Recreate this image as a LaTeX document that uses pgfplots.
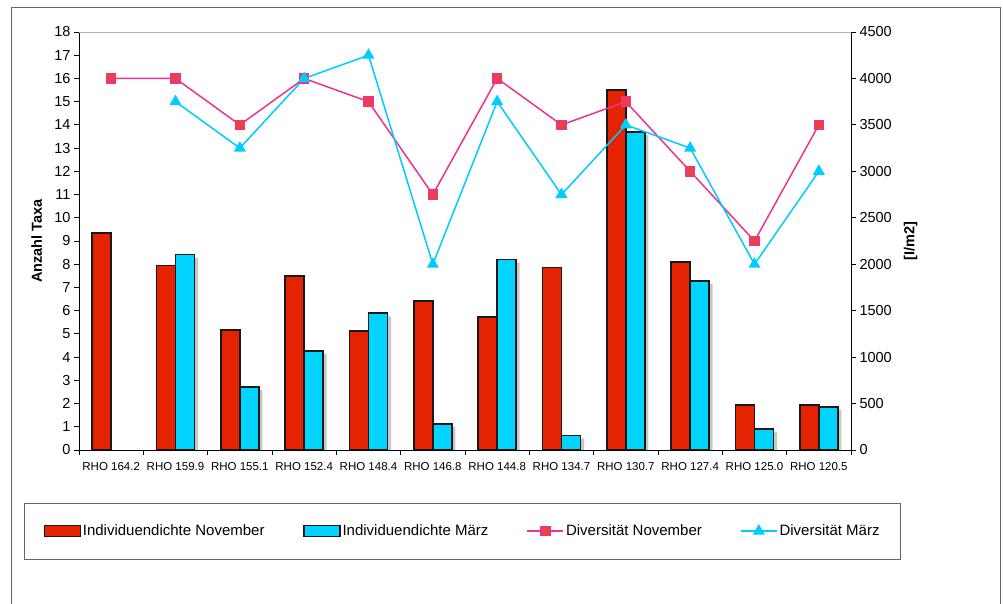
\documentclass[border=0pt]{standalone}
\usepackage{fontspec}
\setmainfont{Liberation Sans}
\usepackage{pgfplots}
\pgfplotsset{compat=1.18}

\definecolor{barred}{RGB}{228,36,0}
\definecolor{barcyan}{RGB}{0,212,255}
\definecolor{novline}{RGB}{240,50,140}
\definecolor{novmark}{RGB}{232,66,66}
\definecolor{marline}{RGB}{0,204,255}
\definecolor{framegray}{RGB}{100,100,100}

\pgfplotsset{
  barlegend/.style={legend image code/.code={\draw[##1] (0pt,-5.5pt) rectangle (36pt,5.5pt);}},
  linelegend/.style={legend image code/.code={\draw[mark repeat=2,mark phase=2,##1] plot coordinates {(0pt,0pt) (18pt,0pt) (36pt,0pt)};}},
  base/.style={
    width=772pt, height=418pt, scale only axis,
    at={(79pt,153pt)}, anchor=south west,
    xmin=-0.5, xmax=11.5,
    /pgf/number format/assume math mode=true,
    /pgf/number format/1000 sep={},
    tick align=outside, major tick length=5pt, minor tick length=5pt,
    every tick/.append style={black, line width=0.8pt},
    axis line style={black, line width=0.8pt},
    tick label style={font=\fontsize{14.5}{16}\selectfont},
    label style={font=\bfseries\fontsize{14.5}{16}\selectfont},
  },
}

\begin{document}
\begin{tikzpicture}
\useasboundingbox (0,0) rectangle (1003pt,603pt);
% outer chart frame
\draw[framegray, line width=0.8pt] (11pt,-5pt) -- (11pt,596pt) -- (1000.5pt,596pt) -- (1000.5pt,-5pt);

% densities (right axis)
\begin{axis}[base,
  ymin=0, ymax=4500, ytick={0,500,...,4500},
  axis y line*=right, axis x line=none, xtick=\empty,
  ylabel={[I/m2]},
  ylabel style={at={(axis description cs:1.0773,0.5)}, anchor=center},
  ybar, bar width=19pt,
]
\addplot[fill=barred, draw=black!90, line width=1.6pt, bar shift=-9.5pt]
  coordinates {(0,2333) (1,1985) (2,1292) (3,1873) (4,1284) (5,1601)
               (6,1432) (7,1963) (8,3876) (9,2024) (10,485) (11,485)};
\addplot[fill=barcyan, draw=black!90, line width=1.6pt, bar shift=9.5pt,
  preaction={fill=black!22, draw=none, transform canvas={xshift=3.5pt,yshift=-3pt}}]
  coordinates {(1,2103) (2,678) (3,1069) (4,1472) (5,283)
               (6,2049) (7,158) (8,3421) (9,1820) (10,223) (11,463)};
\end{axis}

% diversity (left axis)
\begin{axis}[base,
  ymin=0, ymax=18, ytick={0,1,...,18},
  axis y line*=left, axis x line*=bottom,
  xtick={0,...,11},
  xticklabels={RHO 164.2,RHO 159.9,RHO 155.1,RHO 152.4,RHO 148.4,RHO 146.8,
               RHO 144.8,RHO 134.7,RHO 130.7,RHO 127.4,RHO 125.0,RHO 120.5},
  minor xtick={-0.5,0.5,...,11.5},
  major x tick style={draw=none},
  xticklabel style={font=\fontsize{11.5}{13}\selectfont, yshift=-4pt},
  ylabel={Anzahl Taxa},
  ylabel style={at={(axis description cs:-0.0548,0.5)}, anchor=center},
  clip=false,
  legend columns=4,
  legend style={at={(0.4969,-0.1941)}, anchor=center,
    draw=framegray, line width=0.8pt, fill=white,
    inner xsep=19pt, inner ysep=20pt, column sep=0pt,
    nodes={inner sep=2pt, font=\fontsize{15}{18}\selectfont},
    cells={anchor=west}},
]
\draw[gray!60, line width=0.8pt] (rel axis cs:0,1) -- (rel axis cs:1,1);

\addlegendimage{barlegend, fill=barred, draw=black!90, line width=1.2pt}
\addlegendentry{\makebox[218.5pt][l]{Individuendichte November}}
\addlegendimage{barlegend, fill=barcyan, draw=black!90, line width=1.2pt}
\addlegendentry{\makebox[182pt][l]{Individuendichte März}}

\addplot[novline, line width=1.5pt, linelegend,
  mark=square*, mark size=4.5pt, mark options={fill=novmark, draw=none}]
  coordinates {(0,16) (1,16) (2,14) (3,16) (4,15) (5,11)
               (6,16) (7,14) (8,15) (9,12) (10,9) (11,14)};
\addlegendentry{\makebox[172pt][l]{Diversität November}}

\addplot[marline, line width=1.5pt, linelegend,
  mark=triangle*, mark size=5.5pt, mark options={fill=marline, draw=none}]
  coordinates {(1,15) (2,13) (3,16) (4,17) (5,8)
               (6,15) (7,11) (8,14) (9,13) (10,8) (11,12)};
\addlegendentry{Diversität März}
\end{axis}
\end{tikzpicture}
\end{document}
